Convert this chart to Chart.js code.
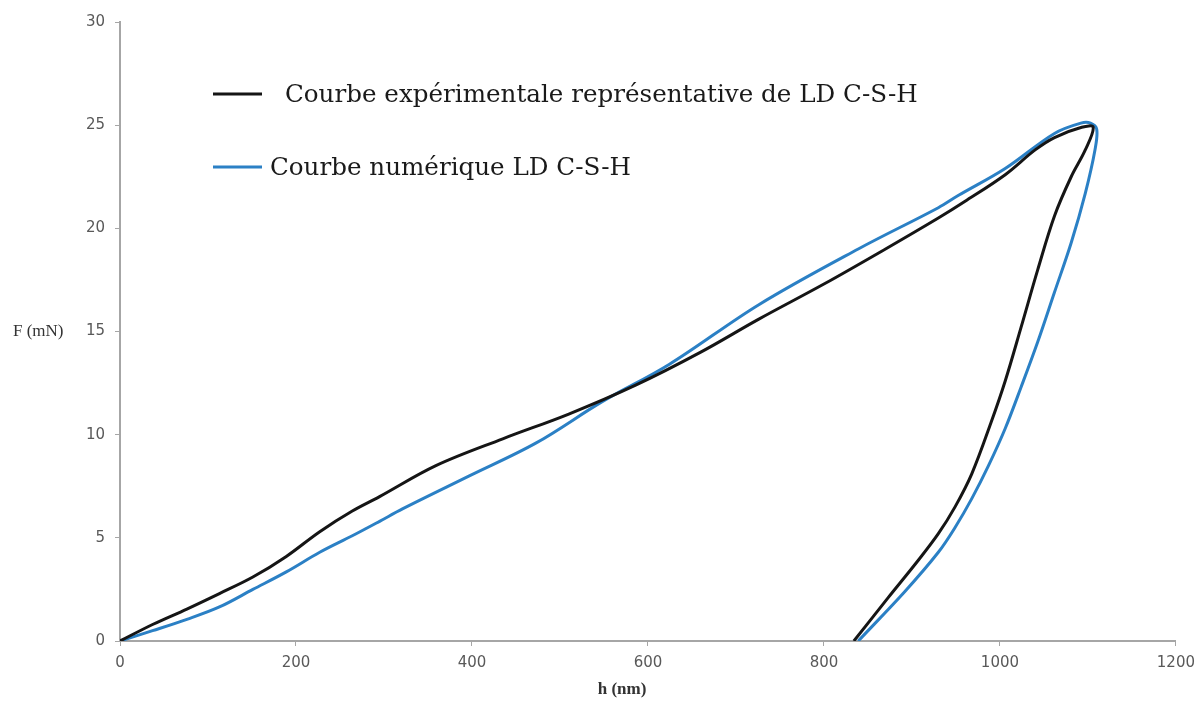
<!DOCTYPE html>
<html>
<head>
<meta charset="utf-8">
<script src="https://cdn.jsdelivr.net/npm/chart.js@4.4.1/dist/chart.umd.min.js"></script>
<style>
  html, body { margin: 0; padding: 0; background: #ffffff; }
  #wrap { width: 1203px; height: 706px; }
</style>
</head>
<body>
<div id="wrap"><canvas id="c" width="1203" height="706"></canvas></div>
<script>
// Experimental curve (loading then unloading)
const expH = [0, 37, 76, 113, 151, 189, 227, 264, 295, 359, 435, 510, 586, 660, 726, 800, 870, 930, 960, 1006, 1040, 1062, 1093, 1106,
              1097, 1081, 1062, 1043, 1024, 1006, 990, 968, 949, 930, 907, 873, 834];
const expF = [0, 0.8, 1.55, 2.3, 3.1, 4.1, 5.3, 6.3, 7.0, 8.5, 9.8, 11.0, 12.4, 14.0, 15.6, 17.3, 19.0, 20.5, 21.3, 22.6, 23.8, 24.4, 24.9, 24.9,
              23.8, 22.5, 20.6, 18.0, 15.2, 12.6, 10.6, 8.1, 6.5, 5.2, 3.9, 2.1, 0];
// Numerical curve (loading then unloading)
const numH = [0, 37, 76, 113, 151, 189, 227, 264, 295, 321, 397, 473, 548, 624, 726, 839, 930, 953, 1006, 1062, 1092, 1103, 1110,
              1108, 1097, 1081, 1062, 1043, 1024, 1006, 987, 968, 949, 930, 892, 839];
const numF = [0, 0.5, 1.05, 1.65, 2.5, 3.35, 4.3, 5.1, 5.8, 6.4, 8.0, 9.6, 11.6, 13.4, 16.3, 19.0, 21.0, 21.6, 22.9, 24.6, 25.1, 25.1, 24.8,
              23.8, 21.7, 19.3, 16.9, 14.5, 12.3, 10.3, 8.5, 6.9, 5.5, 4.3, 2.4, 0];
const seriesLabels = ["Courbe expérimentale représentative de LD C-S-H", "Courbe numérique LD C-S-H"];
const seriesColors = ["#151515", "#2b80c5"];
const xTicks = [0, 200, 400, 600, 800, 1000, 1200];
const yTicks = [0, 5, 10, 15, 20, 25, 30];
const xTitle = "h (nm)";
const yTitle = "F (mN)";

const toPts = (xs, ys) => xs.map((x, i) => ({x: x, y: ys[i]}));

const legendPlugin = {
  id: 'customLegend',
  afterDraw(chart) {
    const ctx = chart.ctx;
    const a = chart.chartArea;
    const rows = [
      {y: 94, textX: 285},
      {y: 167, textX: 270}
    ];
    ctx.save();
    chart.data.datasets.forEach((ds, i) => {
      const r = rows[i];
      ctx.strokeStyle = ds.borderColor;
      ctx.lineWidth = 3;
      ctx.beginPath();
      ctx.moveTo(a.left + 93, r.y);
      ctx.lineTo(a.left + 142, r.y);
      ctx.stroke();
      ctx.fillStyle = '#1a1a1a';
      ctx.font = '24.6px "DejaVu Serif", "Liberation Serif", serif';
      ctx.textBaseline = 'middle';
      ctx.textAlign = 'left';
      ctx.fillText(ds.label, r.textX, r.y + 2);
    });
    // horizontal y-axis title
    ctx.font = '17px "Liberation Serif", "DejaVu Serif", serif';
    ctx.fillStyle = '#333333';
    ctx.textAlign = 'left';
    ctx.textBaseline = 'middle';
    const ys = chart.scales.y;
    ctx.fillText(yTitle, 13, ys.getPixelForValue(15));
    // x-axis title
    ctx.font = 'bold 17px "Liberation Serif", "DejaVu Serif", serif';
    ctx.textAlign = 'center';
    ctx.fillText(xTitle, a.left + 502, 690);
    ctx.restore();
  }
};

new Chart(document.getElementById('c'), {
  type: 'scatter',
  data: {
    datasets: [
      {label: seriesLabels[0], data: toPts(expH, expF), borderColor: seriesColors[0], backgroundColor: seriesColors[0],
       showLine: true, pointRadius: 0, borderWidth: 3, tension: 0.35, fill: false},
      {label: seriesLabels[1], data: toPts(numH, numF), borderColor: seriesColors[1], backgroundColor: seriesColors[1],
       showLine: true, pointRadius: 0, borderWidth: 3, tension: 0.35, fill: false}
    ]
  },
  options: {
    responsive: false,
    animation: false,
    layout: {padding: {left: 0, right: 21, top: 22, bottom: 0}},
    plugins: {legend: {display: false}, tooltip: {enabled: false}},
    scales: {
      x: {
        type: 'linear', min: 0, max: 1200,
        afterBuildTicks: (s) => { s.ticks = xTicks.map(v => ({value: v})); },
        afterFit: (s) => { s.height = 65; },
        border: {color: '#a6a6a6', width: 2},
        grid: {display: true, drawOnChartArea: false, drawTicks: true, tickLength: 5, color: '#a6a6a6'},
        ticks: {color: '#595959', padding: 8, font: {family: '"DejaVu Sans", sans-serif', size: 15},
                callback: (v) => String(v)}
      },
      y: {
        type: 'linear', min: 0, max: 30,
        afterBuildTicks: (s) => { s.ticks = yTicks.map(v => ({value: v})); },
        afterFit: (s) => { s.width = 120; },
        border: {color: '#a6a6a6', width: 2},
        grid: {display: true, drawOnChartArea: false, drawTicks: true, tickLength: 5, color: '#a6a6a6'},
        ticks: {color: '#595959', padding: 10, font: {family: '"DejaVu Sans", sans-serif', size: 15},
                callback: (v) => String(v)}
      }
    }
  },
  plugins: [legendPlugin]
});
</script>
</body>
</html>
